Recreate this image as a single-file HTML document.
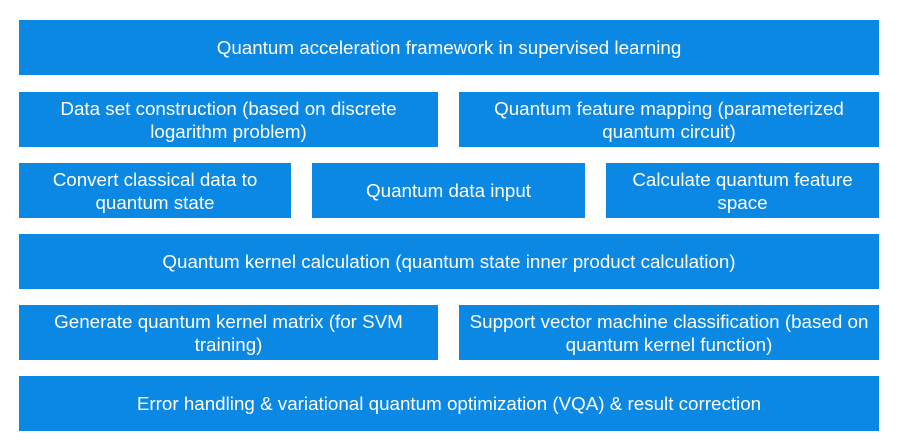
<!DOCTYPE html>
<html><head><style>
body{margin:0;width:900px;height:447px;background:#fff;position:relative;overflow:hidden}
.b{position:absolute;background:#0a88e4;color:#fff;font-family:"Liberation Sans",sans-serif;font-size:18.8px;line-height:23px;display:flex;align-items:center;justify-content:center;text-align:center;box-sizing:border-box;padding:0 6px}
</style></head><body>
<div class="b" style="left:19px;top:20px;width:860px;height:55px">Quantum acceleration framework in supervised learning</div>
<div class="b" style="left:19px;top:92px;width:419px;height:55px">Data set construction (based on discrete<br>logarithm problem)</div>
<div class="b" style="left:459px;top:92px;width:420px;height:55px">Quantum feature mapping (parameterized<br>quantum circuit)</div>
<div class="b" style="left:19px;top:163px;width:272px;height:55px">Convert classical data to<br>quantum state</div>
<div class="b" style="left:312px;top:163px;width:273px;height:55px">Quantum data input</div>
<div class="b" style="left:606px;top:163px;width:273px;height:55px">Calculate quantum feature<br>space</div>
<div class="b" style="left:19px;top:234px;width:860px;height:55px">Quantum kernel calculation (quantum state inner product calculation)</div>
<div class="b" style="left:19px;top:305px;width:419px;height:55px">Generate quantum kernel matrix (for SVM<br>training)</div>
<div class="b" style="left:459px;top:305px;width:420px;height:55px">Support vector machine classification (based on<br>quantum kernel function)</div>
<div class="b" style="left:19px;top:376px;width:860px;height:55px">Error handling &amp; variational quantum optimization (VQA) &amp; result correction</div>
</body></html>
